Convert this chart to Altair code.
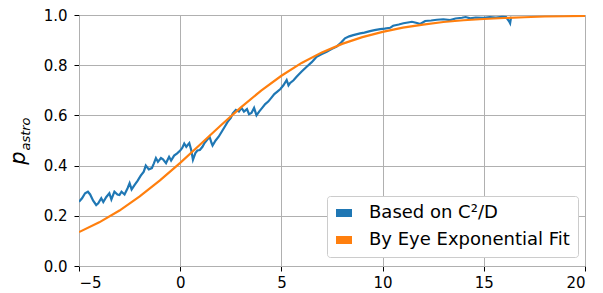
import altair as alt
import pandas as pd

# Blue series: "Based on C^2/D"
blue_x = [-5.0, -4.85, -4.7, -4.56, -4.45, -4.3, -4.15, -4.05, -3.9, -3.8, -3.65, -3.5, -3.4, -3.25,
          -3.1, -3.0, -2.9, -2.75, -2.6, -2.5, -2.4, -2.25, -2.1, -1.95, -1.8, -1.7, -1.55, -1.4,
          -1.3, -1.2, -1.1, -0.95, -0.85, -0.7, -0.55, -0.45, -0.3, -0.15, 0.0, 0.1, 0.2, 0.3,
          0.45, 0.55, 0.63, 0.75, 0.85, 0.97, 1.1, 1.2, 1.3, 1.45, 1.55, 1.6, 1.75, 1.9, 2.05,
          2.2, 2.35, 2.5, 2.6, 2.75, 2.9, 3.03, 3.15, 3.3, 3.4, 3.52, 3.65, 3.77, 3.9, 4.05, 4.2,
          4.35, 4.5, 4.65, 4.8, 4.95, 5.1, 5.26, 5.35, 5.42, 5.6, 5.75, 6.0, 6.25, 6.5, 6.74,
          7.0, 7.24, 7.5, 7.73, 7.95, 8.14, 8.35, 8.55, 8.89, 9.1, 9.38, 9.6, 9.88, 10.1, 10.37,
          10.52, 10.8, 11.03, 11.25, 11.45, 11.7, 11.86, 12.1, 12.4, 12.68, 13.0, 13.34, 13.6,
          13.92, 14.1, 14.33, 14.6, 14.99, 15.3, 15.6, 15.9, 16.1, 16.25, 16.3, 16.35]
blue_y = [0.256, 0.27, 0.29, 0.296, 0.285, 0.26, 0.243, 0.25, 0.27, 0.255, 0.275, 0.29, 0.265, 0.296,
          0.285, 0.283, 0.296, 0.285, 0.31, 0.33, 0.305, 0.323, 0.34, 0.36, 0.376, 0.40, 0.385, 0.39,
          0.409, 0.43, 0.415, 0.43, 0.425, 0.41, 0.435, 0.42, 0.44, 0.449, 0.46, 0.47, 0.488, 0.475,
          0.49, 0.46, 0.423, 0.45, 0.46, 0.462, 0.475, 0.49, 0.50, 0.515, 0.49, 0.48, 0.50, 0.515, 0.535,
          0.555, 0.575, 0.59, 0.608, 0.622, 0.615, 0.63, 0.615, 0.625, 0.605, 0.61, 0.63, 0.60, 0.615,
          0.63, 0.645, 0.655, 0.67, 0.685, 0.695, 0.705, 0.72, 0.741, 0.72, 0.728, 0.74, 0.754, 0.775,
          0.794, 0.812, 0.834, 0.845, 0.854, 0.865, 0.874, 0.89, 0.907, 0.915, 0.92, 0.927, 0.93,
          0.936, 0.94, 0.944, 0.946, 0.949, 0.957, 0.962, 0.967, 0.97, 0.973, 0.968, 0.964, 0.976,
          0.978, 0.981, 0.983, 0.98, 0.986, 0.989, 0.992, 0.987, 0.99, 0.989, 0.992, 0.99, 0.993,
          0.992, 0.975, 0.967, 0.993]

# Orange series: "By Eye Exponential Fit"
orange_x = list(range(-5, 21))
orange_y = [0.135, 0.174, 0.221, 0.277, 0.341, 0.411, 0.485, 0.560, 0.632, 0.699, 0.758, 0.809,
            0.851, 0.885, 0.912, 0.933, 0.950, 0.962, 0.972, 0.979, 0.984, 0.988, 0.991, 0.994,
            0.995, 0.9965]

series_names = ["Based on C²/D", "By Eye Exponential Fit"]
series_colors = ["#1f77b4", "#ff7f0e"]

df = pd.concat([
    pd.DataFrame({"x": blue_x, "y": blue_y, "series": series_names[0], "order": range(len(blue_x))}),
    pd.DataFrame({"x": orange_x, "y": orange_y, "series": series_names[1], "order": range(len(orange_x))}),
])
legend_df = pd.DataFrame({"series": series_names})

FONT = "DejaVu Sans"
cscale = alt.Scale(domain=series_names, range=series_colors)

lines = alt.Chart(df).mark_line(strokeWidth=2.2, clip=True).encode(
    x=alt.X("x:Q", scale=alt.Scale(domain=[-5, 20], nice=False),
            axis=alt.Axis(values=[-5, 0, 5, 10, 15, 20], title=None, labelPadding=4)),
    y=alt.Y("y:Q", scale=alt.Scale(domain=[0, 1], nice=False),
            axis=alt.Axis(values=[0, 0.2, 0.4, 0.6, 0.8, 1.0], format=".1f", title=None,
                          labelPadding=7)),
    color=alt.Color("series:N", scale=cscale, legend=None),
    detail="series:N",
    order="order:Q",
)

# invisible filled points that only carry the legend (patch-like rectangles)
legend_layer = alt.Chart(legend_df).mark_point(filled=True, size=0, opacity=1).encode(
    color=alt.Color(
        "series:N",
        scale=cscale,
        legend=alt.Legend(
            title=None,
            orient="none",
            legendX=248,
            legendY=181,
            symbolType="M-1,-0.5L1,-0.5L1,0.5L-1,0.5Z",
            symbolSize=256,
            symbolStrokeWidth=0,
            symbolOpacity=1,
            labelFontSize=18,
            labelFont=FONT,
            labelColor="#000000",
            labelOffset=16,
            rowPadding=9,
            padding=8,
            strokeColor="#cccccc",
            fillColor="white",
            cornerRadius=3,
            labelLimit=300,
        ),
    ),
)

ylab_p = alt.Chart(pd.DataFrame({"t": ["p"]})).mark_text(
    font=FONT, fontSize=21, fontStyle="italic", angle=270, align="center", baseline="middle"
).encode(x=alt.value(-60), y=alt.value(143), text="t:N")

ylab_sub = alt.Chart(pd.DataFrame({"t": ["astro"]})).mark_text(
    font=FONT, fontSize=13, fontStyle="italic", angle=270, align="center", baseline="middle"
).encode(x=alt.value(-53), y=alt.value(119), text="t:N")

chart = alt.layer(lines, legend_layer, ylab_p, ylab_sub).resolve_legend(
    color="independent"
).properties(
    width=506,
    height=251,
    autosize=alt.AutoSizeParams(type="none"),
    padding={"left": 71, "top": 7, "right": 10, "bottom": 27},
).configure_view(
    stroke="#b0b0b0", strokeWidth=1
).configure_axis(
    grid=True,
    gridColor="#b0b0b0",
    gridWidth=1,
    domainColor="#b0b0b0",
    domainWidth=1,
    tickColor="#000000",
    tickSize=5,
    tickWidth=1,
    labelFont=FONT,
    labelFontSize=15,
    labelColor="#000000",
)

chart.save("out.html", embed_options={"renderer": "svg", "actions": False})
